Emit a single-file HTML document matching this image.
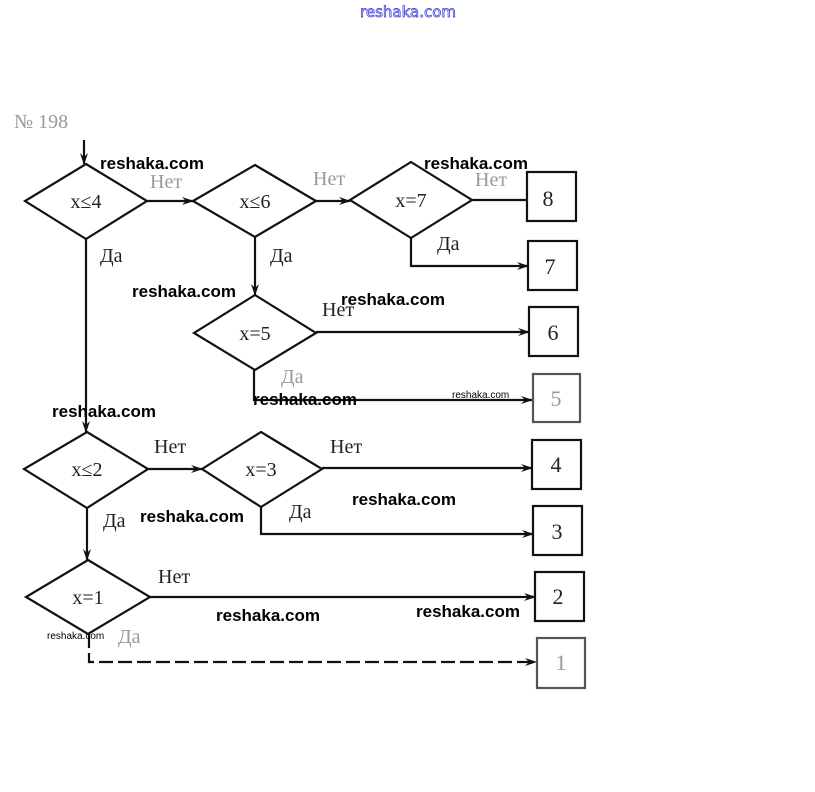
<!DOCTYPE html>
<html><head><meta charset="utf-8"><style>
html,body{margin:0;padding:0;background:#fff;width:815px;height:792px;overflow:hidden}
svg{display:block}
.t{font-family:"Liberation Serif",serif;font-size:20px;fill:#222}
.n{font-size:22px}
.f{fill:#999}
.w{font-family:"Liberation Sans","DejaVu Sans",sans-serif;font-size:17px;font-weight:bold;fill:#000}
.ws{font-family:"Liberation Sans","DejaVu Sans",sans-serif;font-size:10px;fill:#000}
</style></head><body>
<svg width="815" height="792" viewBox="0 0 815 792" xmlns="http://www.w3.org/2000/svg">
<defs><marker id="a" markerWidth="12" markerHeight="8" refX="11" refY="4" orient="auto" markerUnits="userSpaceOnUse"><path d="M0,0 L12,4 L0,8 L4,4z" fill="#111"/></marker></defs>
<text x="360" y="17" font-family="DejaVu Sans,sans-serif" font-size="15" fill="#fff" stroke="#3030d8" stroke-width="0.7">reshaka.com</text>
<text x="14" y="128" class="t f">№ 198</text>
<g stroke="#111" stroke-width="2.2" fill="none">
<line x1="84" y1="140" x2="84" y2="164" marker-end="url(#a)"/>
<polygon points="86,164 147,201 86,239 25,201"/>
<polygon points="255,165 316,201 255,237 193,201"/>
<polygon points="411,162 472,200 411,238 350,200"/>
<line x1="147" y1="201" x2="193" y2="201" marker-end="url(#a)"/>
<line x1="316" y1="201" x2="350" y2="201" marker-end="url(#a)"/>
<line x1="472" y1="200" x2="527" y2="200"/>
<rect x="527" y="172" width="49" height="49"/>
<polyline points="411,238 411,266 528,266" marker-end="url(#a)"/>
<rect x="528" y="241" width="49" height="49"/>
<line x1="255" y1="237" x2="255" y2="295" marker-end="url(#a)"/>
<polygon points="255,295 316,333 255,370 194,333"/>
<line x1="316" y1="332" x2="529" y2="332" marker-end="url(#a)"/>
<rect x="529" y="307" width="49" height="49"/>
<polyline points="254,370 254,400 532,400" marker-end="url(#a)"/>
<rect x="533" y="374" width="47" height="48" stroke="#555"/>
<line x1="86" y1="239" x2="86" y2="432" marker-end="url(#a)"/>
<polygon points="87,432 148,469 87,508 24,469"/>
<line x1="148" y1="469" x2="202" y2="469" marker-end="url(#a)"/>
<polygon points="261,432 322,469 261,507 202,469"/>
<line x1="322" y1="468" x2="532" y2="468" marker-end="url(#a)"/>
<rect x="532" y="440" width="49" height="49"/>
<polyline points="261,507 261,534 533,534" marker-end="url(#a)"/>
<rect x="533" y="506" width="49" height="49"/>
<line x1="87" y1="508" x2="87" y2="560" marker-end="url(#a)"/>
<polygon points="88,560 150,597 88,634 26,597"/>
<line x1="150" y1="597" x2="535" y2="597" marker-end="url(#a)"/>
<rect x="535" y="572" width="49" height="49"/>
<polyline points="89,634 89,662 536,662" stroke-dasharray="14,5" marker-end="url(#a)"/>
<rect x="537" y="638" width="48" height="50" stroke="#555"/>
</g>
<text x="86" y="208" class="t" text-anchor="middle">x≤4</text>
<text x="255" y="208" class="t" text-anchor="middle">x≤6</text>
<text x="411" y="207" class="t" text-anchor="middle">x=7</text>
<text x="255" y="340" class="t" text-anchor="middle">x=5</text>
<text x="87" y="476" class="t" text-anchor="middle">x≤2</text>
<text x="261" y="476" class="t" text-anchor="middle">x=3</text>
<text x="88" y="604" class="t" text-anchor="middle">x=1</text>
<text x="548" y="206" class="t n" text-anchor="middle">8</text>
<text x="550" y="274" class="t n" text-anchor="middle">7</text>
<text x="553" y="340" class="t n" text-anchor="middle">6</text>
<text x="556" y="406" class="t n f" text-anchor="middle">5</text>
<text x="556" y="472" class="t n" text-anchor="middle">4</text>
<text x="557" y="539" class="t n" text-anchor="middle">3</text>
<text x="558" y="604" class="t n" text-anchor="middle">2</text>
<text x="561" y="670" class="t n f" text-anchor="middle">1</text>
<text x="150" y="188" class="t f">Нет</text>
<text x="313" y="185" class="t f">Нет</text>
<text x="475" y="186" class="t f">Нет</text>
<text x="100" y="262" class="t">Да</text>
<text x="270" y="262" class="t">Да</text>
<text x="437" y="250" class="t">Да</text>
<text x="322" y="316" class="t">Нет</text>
<text x="281" y="383" class="t f">Да</text>
<text x="154" y="453" class="t">Нет</text>
<text x="330" y="453" class="t">Нет</text>
<text x="103" y="527" class="t">Да</text>
<text x="289" y="518" class="t">Да</text>
<text x="158" y="583" class="t">Нет</text>
<text x="118" y="643" class="t f">Да</text>
<text x="100" y="169" class="w">reshaka.com</text>
<text x="424" y="169" class="w">reshaka.com</text>
<text x="132" y="297" class="w">reshaka.com</text>
<text x="341" y="305" class="w">reshaka.com</text>
<text x="253" y="405" class="w">reshaka.com</text>
<text x="452" y="398" class="ws">reshaka.com</text>
<text x="52" y="417" class="w">reshaka.com</text>
<text x="140" y="522" class="w">reshaka.com</text>
<text x="352" y="505" class="w">reshaka.com</text>
<text x="216" y="621" class="w">reshaka.com</text>
<text x="416" y="617" class="w">reshaka.com</text>
<text x="47" y="639" class="ws">reshaka.com</text>
</svg>
</body></html>
